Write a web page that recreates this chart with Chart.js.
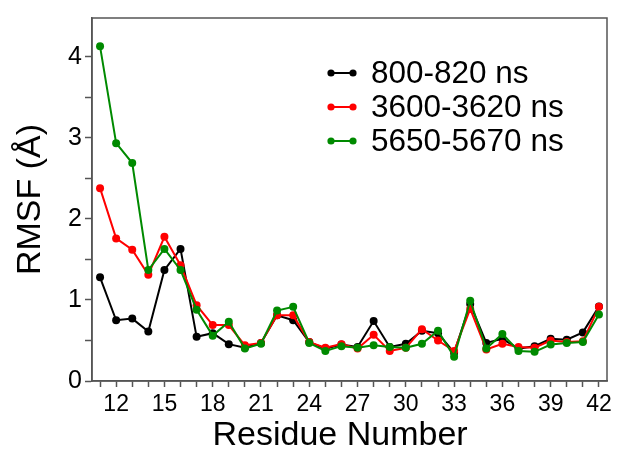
<!DOCTYPE html>
<html>
<head>
<meta charset="utf-8">
<script src="https://cdn.jsdelivr.net/npm/chart.js@4.4.0/dist/chart.umd.min.js"></script>
<style>
  html, body { margin: 0; padding: 0; background: #fff; }
  #wrap { width: 618px; height: 455px; }
</style>
</head>
<body>
<div id="wrap"><canvas id="rmsfChart" width="618" height="455"></canvas></div>
<script>
// residue numbers on x
const residues = [11, 12, 13, 14, 15, 16, 17, 18, 19, 20, 21, 22, 23, 24, 25, 26,
                  27, 28, 29, 30, 31, 32, 33, 34, 35, 36, 37, 38, 39, 40, 41, 42];

// RMSF (Å) per residue
const rmsf800 = [1.28, 0.75, 0.77, 0.61, 1.37, 1.63, 0.545, 0.59, 0.455, 0.41, 0.47, 0.81, 0.75, 0.48, 0.40, 0.45,
                 0.42, 0.74, 0.42, 0.46, 0.62, 0.59, 0.35, 0.95, 0.47, 0.52, 0.40, 0.43, 0.52, 0.51, 0.60, 0.92];
const rmsf3600 = [2.38, 1.76, 1.62, 1.31, 1.78, 1.43, 0.935, 0.69, 0.69, 0.44, 0.47, 0.81, 0.81, 0.48, 0.41, 0.455,
                  0.40, 0.57, 0.37, 0.41, 0.64, 0.50, 0.37, 0.89, 0.39, 0.46, 0.42, 0.41, 0.50, 0.48, 0.49, 0.915];
const rmsf5650 = [4.13, 2.935, 2.69, 1.37, 1.63, 1.37, 0.88, 0.56, 0.73, 0.40, 0.46, 0.87, 0.915, 0.47, 0.37, 0.43,
                  0.41, 0.44, 0.42, 0.41, 0.46, 0.62, 0.30, 0.99, 0.40, 0.58, 0.37, 0.36, 0.45, 0.47, 0.48, 0.82];

const seriesNames = ['800-820 ns', '3600-3620 ns', '5650-5670 ns'];
const seriesColors = ['#000000', '#ff0000', '#008a00'];

const xTickLabels = [12, 15, 18, 21, 24, 27, 30, 33, 36, 39, 42];
const yTickValues = [0, 0.5, 1, 1.5, 2, 2.5, 3, 3.5, 4];
const yTickLabels = [0, 1, 2, 3, 4];

const FONT = "'Liberation Sans', Arial, Helvetica, sans-serif";
const AXIS_GREY = '#555555';

const toPoints = arr => residues.map((r, i) => ({ x: r, y: arr[i] }));

function makeSet(idx, values, order) {
  return {
    label: seriesNames[idx],
    data: toPoints(values),
    borderColor: seriesColors[idx],
    backgroundColor: seriesColors[idx],
    borderWidth: 2,
    pointRadius: 4,
    pointBorderWidth: 0,
    pointBackgroundColor: seriesColors[idx],
    tension: 0,
    order: order
  };
}

// frame around the plot area (Grace style box)
const framePlugin = {
  id: 'frame',
  afterDraw(chart) {
    const { ctx, chartArea: a } = chart;
    ctx.save();
    ctx.strokeStyle = AXIS_GREY;
    ctx.lineWidth = 1.5;
    ctx.strokeRect(a.left, a.top, a.right - a.left, a.bottom - a.top);
    ctx.restore();
  }
};

// legend inside the plot: line with dots at both ends, then the label
const insideLegend = {
  id: 'insideLegend',
  afterDraw(chart) {
    const ctx = chart.ctx;
    ctx.save();
    chart.data.datasets.forEach((ds, i) => {
      const y = 73 + i * 34;
      ctx.strokeStyle = ds.borderColor;
      ctx.fillStyle = ds.borderColor;
      ctx.lineWidth = 2;
      ctx.beginPath();
      ctx.moveTo(331, y);
      ctx.lineTo(353, y);
      ctx.stroke();
      [331, 353].forEach(px => {
        ctx.beginPath();
        ctx.arc(px, y, 3.6, 0, Math.PI * 2);
        ctx.fill();
      });
      ctx.fillStyle = '#000';
      ctx.font = '31.5px ' + FONT;
      ctx.textAlign = 'left';
      ctx.textBaseline = 'middle';
      ctx.fillText(ds.label, 371, y + 1);
    });
    ctx.restore();
  }
};

const ctx = document.getElementById('rmsfChart').getContext('2d');
new Chart(ctx, {
  type: 'line',
  data: {
    datasets: [
      makeSet(0, rmsf800, 3),
      makeSet(1, rmsf3600, 2),
      makeSet(2, rmsf5650, 1)
    ]
  },
  options: {
    responsive: false,
    animation: false,
    layout: { padding: { top: 13, right: 11, left: 0, bottom: 0 } },
    plugins: {
      legend: { display: false },
      tooltip: { enabled: false }
    },
    scales: {
      x: {
        type: 'linear',
        min: 10.5,
        max: 42.5,
        afterBuildTicks: s => { s.ticks = residues.map(v => ({ value: v })); },
        afterFit: s => { s.height = 74; },
        ticks: {
          autoSkip: false,
          maxRotation: 0,
          padding: 4,
          color: '#000',
          font: { family: FONT, size: 23 },
          callback: v => xTickLabels.includes(v) ? String(v) : ''
        },
        grid: { drawOnChartArea: false, tickLength: 6, tickColor: AXIS_GREY, tickWidth: 1.5 },
        border: { color: AXIS_GREY, width: 1.5 },
        title: {
          display: true,
          text: 'Residue Number  ', // trailing spaces nudge it a bit left like the original
          color: '#000',
          font: { family: FONT, size: 34, lineHeight: 1 },
          padding: { top: 0, bottom: 2 }
        }
      },
      y: {
        min: 0,
        max: 4.48,
        afterBuildTicks: s => { s.ticks = yTickValues.map(v => ({ value: v })); },
        afterFit: s => { s.width = 92; },
        ticks: {
          autoSkip: false,
          padding: 3,
          color: '#000',
          font: { family: FONT, size: 25 },
          callback: v => yTickLabels.includes(v) ? String(v) : ''
        },
        grid: { drawOnChartArea: false, tickLength: 7, tickColor: AXIS_GREY, tickWidth: 1.5 },
        border: { color: AXIS_GREY, width: 1.5 },
        title: {
          display: true,
          text: 'RMSF (Å)',
          color: '#000',
          font: { family: FONT, size: 34, lineHeight: 1.2 },
          padding: { top: 10, bottom: 0 }
        }
      }
    }
  },
  plugins: [framePlugin, insideLegend]
});
</script>
</body>
</html>
